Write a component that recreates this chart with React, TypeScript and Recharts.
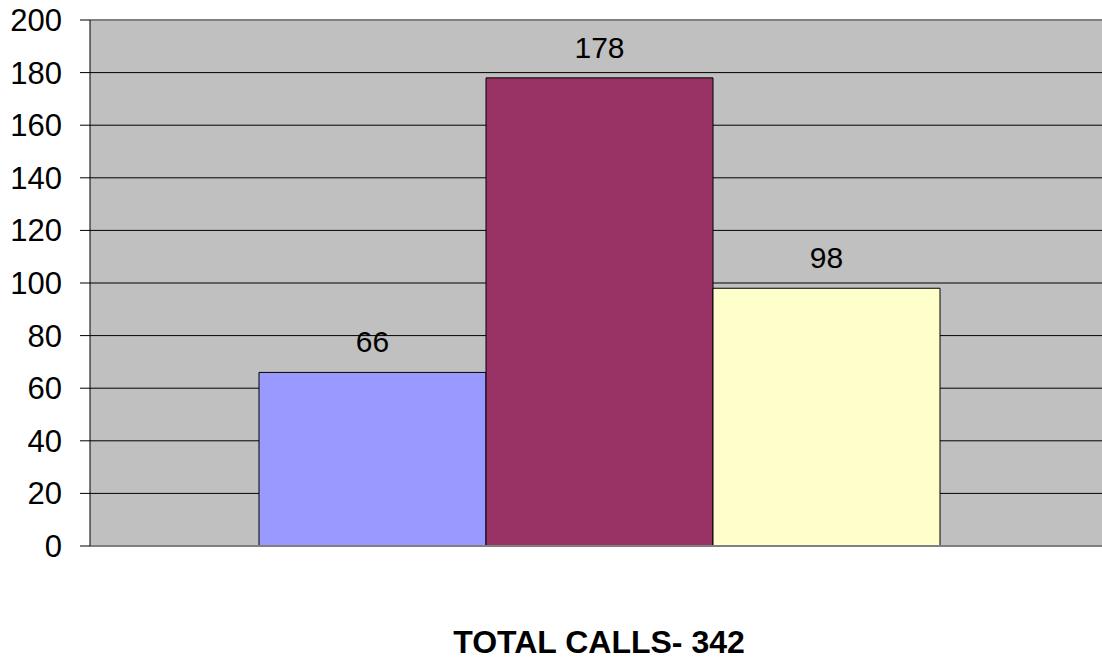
import { BarChart, Bar, XAxis, YAxis, CartesianGrid, LabelList, ReferenceLine, Label } from 'recharts'

const categories = ['Calls']
const firstValues = [66]
const secondValues = [178]
const thirdValues = [98]
const yTicks = [0, 20, 40, 60, 80, 100, 120, 140, 160, 180, 200]
const totalLabel = 'TOTAL CALLS- 342'

const data = categories.map((name, i) => ({
  name,
  first: firstValues[i],
  second: secondValues[i],
  third: thirdValues[i],
}))

const font = '"Liberation Sans", Arial, sans-serif'
const labelStyle = { fontSize: 30, fill: '#000', fontFamily: font }

// the plot area in the original runs a few px past the right edge, so the chart is a bit wider and clipped
export default function App() {
  return (
    <div style={{ width: 1102, height: 660, overflow: 'hidden', fontFamily: font }}>
      <style>{'body{margin:0}'}</style>
      <BarChart
        width={1108}
        height={660}
        data={data}
        margin={{ top: 20, right: 0, bottom: 0, left: 0 }}
        barCategoryGap={169}
        barGap={0}
      >
        <CartesianGrid vertical={false} stroke="#000" fill="#C0C0C0" fillOpacity={1} />
        <XAxis
          dataKey="name"
          tick={false}
          tickLine={false}
          height={114}
          axisLine={{ stroke: '#808080', strokeWidth: 2 }}
        >
          <Label
            value={totalLabel}
            position="insideBottom"
            offset={7}
            style={{ fontSize: 32, fontWeight: 'bold', fill: '#000', fontFamily: font }}
          />
        </XAxis>
        <YAxis
          domain={[0, 200]}
          ticks={yTicks}
          width={90}
          tickSize={10}
          tickMargin={18}
          interval={0}
          axisLine={{ stroke: '#000' }}
          tickLine={{ stroke: '#000' }}
          tick={{ fontSize: 31, fill: '#000', fontFamily: font }}
        />
        <ReferenceLine y={200} stroke="#808080" strokeWidth={2} />
        <Bar dataKey="first" fill="#9999FF" stroke="#000" strokeWidth={1} isAnimationActive={false}>
          <LabelList dataKey="first" position="top" offset={20} style={labelStyle} />
        </Bar>
        <Bar dataKey="second" fill="#993366" stroke="#000" strokeWidth={1} isAnimationActive={false}>
          <LabelList dataKey="second" position="top" offset={20} style={labelStyle} />
        </Bar>
        <Bar dataKey="third" fill="#FFFFCC" stroke="#000" strokeWidth={1} isAnimationActive={false}>
          <LabelList dataKey="third" position="top" offset={20} style={labelStyle} />
        </Bar>
      </BarChart>
    </div>
  )
}
